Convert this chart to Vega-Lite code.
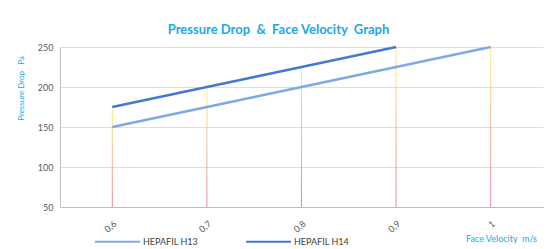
{
  "$schema": "https://vega.github.io/schema/vega-lite/v6.json",
  "autosize": {"type": "none"},
  "width": 483,
  "height": 160,
  "padding": {"left": 60, "top": 47, "right": 7, "bottom": 42},
  "background": "white",
  "title": {
    "text": "Pressure Drop \u00a0&\u00a0 Face Velocity \u00a0Graph",
    "font": "Lato",
    "fontSize": 13,
    "fontWeight": "bold",
    "color": "#1aa9e8",
    "anchor": "middle",
    "dx": -23,
    "offset": 5
  },
  "datasets": {
    "lines": [
      {"v": 0.6, "series": "HEPAFIL H13", "pd": 150},
      {"v": 0.7, "series": "HEPAFIL H13", "pd": 175},
      {"v": 0.8, "series": "HEPAFIL H13", "pd": 200},
      {"v": 0.9, "series": "HEPAFIL H13", "pd": 225},
      {"v": 1.0, "series": "HEPAFIL H13", "pd": 250},
      {"v": 0.6, "series": "HEPAFIL H14", "pd": 175},
      {"v": 0.7, "series": "HEPAFIL H14", "pd": 200},
      {"v": 0.8, "series": "HEPAFIL H14", "pd": 225},
      {"v": 0.9, "series": "HEPAFIL H14", "pd": 250}
    ],
    "drops": [
      {"v": 0.6, "low": 50, "top": 175},
      {"v": 0.7, "low": 50, "top": 200},
      {"v": 0.8, "low": 50, "top": 225},
      {"v": 0.9, "low": 50, "top": 250},
      {"v": 1.0, "low": 50, "top": 250}
    ]
  },
  "encoding": {
    "x": {
      "field": "v", "type": "quantitative",
      "scale": {"domain": [0.55, 1.05], "nice": false, "zero": false},
      "axis": {
        "values": [0.6, 0.7, 0.8, 0.9, 1.0],
        "labelExpr": "datum.value > 0.95 ? '1' : '0,' + round(datum.value * 10)",
        "labelAngle": -40,
        "labelFont": "Lato",
        "labelFontSize": 9,
        "labelColor": "#595959",
        "labelPadding": 12,
        "ticks": false,
        "grid": false,
        "domainColor": "#bfbfbf",
        "title": "Face Velocity \u00a0m/s",
        "titleFont": "Lato",
        "titleFontSize": 9,
        "titleFontWeight": "normal",
        "titleColor": "#1aa9e8",
        "titleX": 441,
        "titleY": 31,
        "titleAlign": "center",
        "titleBaseline": "middle"
      }
    },
    "y": {
      "type": "quantitative",
      "scale": {"domain": [50, 250], "nice": false, "zero": false},
      "axis": {
        "values": [50, 100, 150, 200, 250],
        "labelFont": "Lato",
        "labelFontSize": 9,
        "labelColor": "#595959",
        "labelPadding": 7,
        "ticks": false,
        "grid": true,
        "gridColor": "#dedede",
        "domainColor": "#bfbfbf",
        "title": "Pressure Drop \u00a0\u00a0Pa",
        "titleFont": "Lato",
        "titleFontSize": 8,
        "titleFontWeight": "normal",
        "titleColor": "#1aa9e8",
        "titleX": -39,
        "titleY": 41,
        "titleAngle": -90,
        "titleAlign": "center",
        "titleBaseline": "middle"
      }
    }
  },
  "layer": [
    {
      "data": {"name": "drops"},
      "mark": {
        "type": "bar",
        "size": 1,
        "color": {
          "gradient": "linear",
          "x1": 0, "y1": 0, "x2": 0, "y2": 1,
          "stops": [
            {"offset": 0, "color": "#fbef7a"},
            {"offset": 0.55, "color": "#f6b3a0"},
            {"offset": 1, "color": "#d98c99"}
          ]
        }
      },
      "encoding": {
        "y": {"field": "top", "type": "quantitative"},
        "y2": {"field": "low"}
      }
    },
    {
      "data": {"name": "lines"},
      "mark": {"type": "line", "strokeWidth": 2.5},
      "encoding": {
        "y": {"field": "pd", "type": "quantitative"},
        "color": {
          "field": "series", "type": "nominal",
          "scale": {"domain": ["HEPAFIL H13", "HEPAFIL H14"], "range": ["#7fa9e3", "#4479d2"]},
          "legend": {
            "orient": "none",
            "legendX": 34,
            "legendY": 171,
            "direction": "horizontal",
            "title": null,
            "symbolType": "stroke",
            "symbolSize": 2025,
            "symbolStrokeWidth": 2,
            "labelFont": "Lato",
            "labelFontSize": 9,
            "labelColor": "#404040",
            "labelOffset": 2,
            "columnPadding": 44
          }
        }
      }
    }
  ],
  "config": {"view": {"stroke": null}}
}
